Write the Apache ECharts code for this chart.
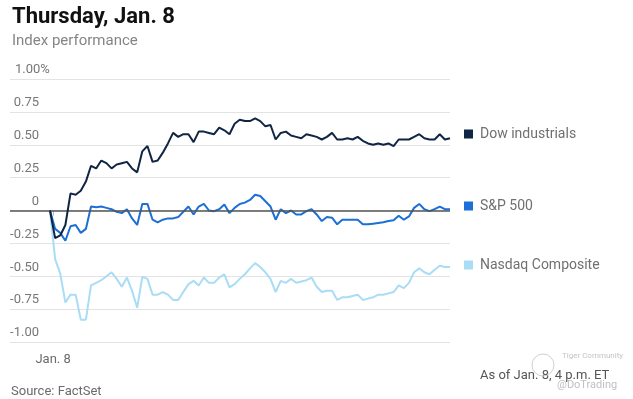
<!DOCTYPE html>
<html>
<head>
<meta charset="utf-8">
<script src="https://cdn.jsdelivr.net/npm/echarts@6/dist/echarts.min.js"></script>
<style>
html,body{margin:0;padding:0;background:#fff;}
#chart{width:633px;height:399px;}
</style>
</head>
<body>
<div id="chart"></div>
<script>
// ---- data (percent change, 5-minute intervals, 9:30am – 4pm ET) ----
const seriesNames = ["Dow industrials", "S&P 500", "Nasdaq Composite"];
const dowValues = [0, -0.21, -0.19, -0.11, 0.13, 0.12, 0.15, 0.22, 0.34, 0.32, 0.38, 0.36, 0.32, 0.35, 0.36, 0.37, 0.32, 0.29, 0.45, 0.49, 0.37, 0.38, 0.44, 0.51, 0.59, 0.56, 0.58, 0.58, 0.52, 0.60, 0.60, 0.59, 0.58, 0.63, 0.61, 0.58, 0.66, 0.69, 0.68, 0.68, 0.70, 0.68, 0.64, 0.65, 0.54, 0.59, 0.60, 0.57, 0.56, 0.55, 0.58, 0.57, 0.56, 0.54, 0.56, 0.59, 0.54, 0.54, 0.55, 0.54, 0.56, 0.53, 0.51, 0.50, 0.51, 0.50, 0.51, 0.49, 0.54, 0.54, 0.54, 0.56, 0.58, 0.55, 0.54, 0.54, 0.58, 0.54, 0.55];
const spValues = [0, -0.14, -0.17, -0.23, -0.12, -0.11, -0.17, -0.14, 0.03, 0.025, 0.03, 0.02, 0.01, -0.01, -0.02, 0.01, -0.06, -0.11, 0.05, 0.05, -0.07, -0.09, -0.07, -0.06, -0.06, -0.05, -0.01, 0.03, -0.03, 0.03, 0.05, 0.0, -0.005, 0.01, 0.045, -0.02, 0.02, 0.05, 0.06, 0.08, 0.12, 0.11, 0.07, 0.03, -0.07, 0.01, -0.02, 0.0, -0.03, -0.03, -0.005, 0.01, -0.03, -0.08, -0.05, -0.055, -0.105, -0.07, -0.07, -0.07, -0.07, -0.105, -0.105, -0.10, -0.095, -0.09, -0.08, -0.075, -0.04, -0.07, -0.045, 0.02, 0.05, 0.01, -0.005, 0.01, 0.03, 0.01, 0.01];
const nasdaqValues = [0, -0.37, -0.48, -0.70, -0.64, -0.64, -0.83, -0.83, -0.57, -0.55, -0.53, -0.50, -0.47, -0.52, -0.58, -0.51, -0.61, -0.74, -0.505, -0.52, -0.64, -0.64, -0.62, -0.64, -0.68, -0.68, -0.62, -0.56, -0.535, -0.57, -0.51, -0.55, -0.55, -0.51, -0.485, -0.585, -0.56, -0.52, -0.485, -0.44, -0.40, -0.43, -0.47, -0.52, -0.62, -0.535, -0.55, -0.52, -0.55, -0.54, -0.53, -0.51, -0.58, -0.62, -0.61, -0.61, -0.68, -0.66, -0.66, -0.65, -0.64, -0.68, -0.67, -0.66, -0.64, -0.64, -0.63, -0.62, -0.57, -0.59, -0.55, -0.47, -0.44, -0.47, -0.485, -0.45, -0.42, -0.43, -0.43];
const yTickValues = [-1, -0.75, -0.5, -0.25, 0, 0.25, 0.5, 0.75, 1];
const yTickLabels = ["-1.00", "-0.75", "-0.50", "-0.25", "0", "0.25", "0.50", "0.75", "1.00%"];
const xTickLabel = "Jan. 8";
const xTickAt = 0.6;
const colors = ["#0f2543", "#1b6fd6", "#a9dcf5"];

const FONT = "Roboto, 'Liberation Sans', sans-serif";
const chart = echarts.init(document.getElementById('chart'), null, {renderer: 'canvas'});

function toPairs(arr) { return arr.map((v, i) => [i, v]); }
const allSeries = [dowValues, spValues, nasdaqValues];

const series = allSeries.map((vals, k) => ({
  name: seriesNames[k],
  type: 'line',
  data: toPairs(vals),
  showSymbol: false,
  symbol: 'none',
  smooth: false,
  z: 3 + (2 - k),
  lineStyle: {color: colors[k], width: 2},
  itemStyle: {color: colors[k]},
  emphasis: {disabled: true}
}));
// zero reference line
series.push({
  name: 'zero',
  type: 'line',
  data: [],
  z: 2,
  silent: true,
  markLine: {
    silent: true,
    symbol: 'none',
    label: {show: false},
    lineStyle: {color: '#555', width: 1.5, type: 'solid'},
    data: [{yAxis: 0}]
  }
});

function legendFor(k, top) {
  return {
    data: [{name: seriesNames[k], icon: 'rect'}],
    left: 464, top: top,
    padding: 0,
    itemWidth: 9, itemHeight: 9,
    selectedMode: false,
    textStyle: {fontFamily: FONT, fontSize: 14, color: '#707070', padding: [0, 0, 0, 2]}
  };
}

const option = {
  animation: false,
  backgroundColor: '#fff',
  title: {
    text: 'Thursday, Jan. 8',
    subtext: 'Index performance',
    left: 7, top: 1,
    itemGap: 6,
    textStyle: {fontFamily: FONT, fontWeight: 'bold', fontSize: 22, color: '#111'},
    subtextStyle: {fontFamily: FONT, fontSize: 15, color: '#858585'}
  },
  legend: [legendFor(0, 127), legendFor(1, 199), legendFor(2, 258)],
  grid: {left: 10, right: 183, top: 79, bottom: 57, containLabel: false},
  xAxis: {
    type: 'value',
    min: -7.8, max: 78,
    splitLine: {show: false},
    axisLine: {show: false},
    axisTick: {show: true, customValues: [xTickAt], length: 5, lineStyle: {color: '#bbb'}},
    axisLabel: {
      show: true, customValues: [xTickAt], margin: 11,
      formatter: () => xTickLabel,
      fontFamily: FONT, fontSize: 13, color: '#6b6b6b'
    }
  },
  yAxis: {
    type: 'value',
    min: -1, max: 1, interval: 0.25,
    axisLine: {show: false},
    axisTick: {show: false},
    splitLine: {show: true, lineStyle: {color: '#e3e3e3', width: 1}},
    axisLabel: {
      inside: true, margin: 0, align: 'left', verticalAlign: 'bottom',
      fontFamily: FONT, fontSize: 13, color: '#777', lineHeight: 14,
      padding: [0, 0, 2, 0],
      formatter: v => {
        const idx = yTickValues.findIndex(t => Math.abs(t - v) < 1e-9);
        const s = idx >= 0 ? yTickLabels[idx] : '';
        if (s.endsWith('%')) return '{m|' + s + '}';
        return '{n|' + s + '}';
      },
      rich: {
        n: {fontFamily: FONT, fontSize: 13, color: '#777', width: 29, align: 'right', lineHeight: 14},
        m: {fontFamily: FONT, fontSize: 13, color: '#777', align: 'left', lineHeight: 14, padding: [0, 0, 0, 5]}
      }
    }
  },
  graphic: [
    {type: 'text', left: 11, top: 385, style: {text: 'Source: FactSet', font: '13px ' + FONT, fill: '#6b6b6b'}},
    {type: 'text', left: 480, top: 369, style: {text: 'As of Jan. 8, 4 p.m. ET', font: '13px ' + FONT, fill: '#555'}},
    {type: 'circle', shape: {cx: 543, cy: 365, r: 11}, style: {fill: 'none', stroke: '#d0d0d0', lineWidth: 1}},
    {type: 'text', left: 562, top: 352, style: {text: 'Tiger Community', font: '8px ' + FONT, fill: '#c4c4c4'}},
    {type: 'text', left: 557, top: 380, style: {text: '@DoTrading', font: '11px ' + FONT, fill: '#c0c0c0'}}
  ],
  series: series
};
chart.setOption(option);
</script>
</body>
</html>
